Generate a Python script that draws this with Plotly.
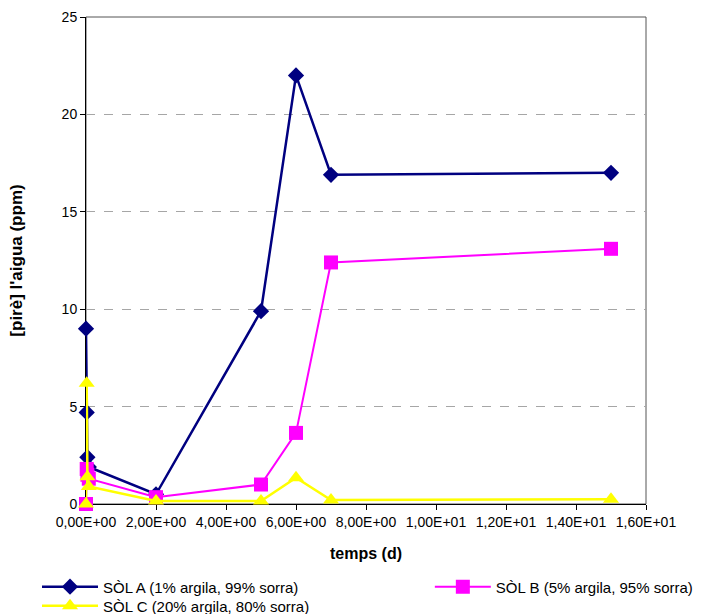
import plotly.graph_objects as go

# Sampling times (days) and measured concentrations (ppm) for each soil
temps_a = [0, 0.02, 0.04, 0.08, 2, 5, 6, 7, 15]
sol_a = [9.0, 4.7, 2.4, 1.9, 0.5, 9.9, 22.0, 16.9, 17.0]

temps_b = [0, 0.02, 0.04, 0.08, 2, 5, 6, 7, 15]
sol_b = [0.0, 1.8, 1.5, 1.3, 0.35, 1.0, 3.65, 12.4, 13.1]

temps_c = [0, 0.02, 0.04, 0.08, 2, 5, 6, 7, 15]
sol_c = [0.0, 6.2, 1.4, 0.9, 0.15, 0.15, 1.35, 0.2, 0.25]

x_tick_vals = [0, 2, 4, 6, 8, 10, 12, 14, 16]
x_tick_text = ["0,00E+00", "2,00E+00", "4,00E+00", "6,00E+00", "8,00E+00",
               "1,00E+01", "1,20E+01", "1,40E+01", "1,60E+01"]
y_tick_vals = [0, 5, 10, 15, 20, 25]

names = ["SÒL A (1% argila, 99% sorra)",
         "SÒL B (5% argila, 95% sorra)",
         "SÒL C (20% argila, 80% sorra)"]

FONT = "Liberation Sans, Arial, sans-serif"

fig = go.Figure()
fig.add_trace(go.Scatter(
    x=temps_a, y=sol_a, name=names[0], mode="lines+markers",
    line=dict(color="#000080", width=2.5),
    marker=dict(symbol="diamond", size=12.5, color="#000080"),
    cliponaxis=False, legend="legend2"))
fig.add_trace(go.Scatter(
    x=temps_b, y=sol_b, name=names[1], mode="lines+markers",
    line=dict(color="#FF00FF", width=2),
    marker=dict(symbol="square", size=14, color="#FF00FF"),
    cliponaxis=False, legend="legend3"))
fig.add_trace(go.Scatter(
    x=temps_c, y=sol_c, name=names[2], mode="lines+markers",
    line=dict(color="#FFFF00", width=2.5),
    marker=dict(symbol="triangle-up", size=14, color="#FFFF00"),
    cliponaxis=False, legend="legend4"))

legend_common = dict(orientation="v", itemwidth=56, borderwidth=0,
                     bgcolor="rgba(0,0,0,0)", yanchor="middle", xanchor="left",
                     font=dict(family=FONT, size=15, color="#000"),
                     itemclick=False, itemdoubleclick=False)

fig.update_layout(
    width=716, height=614,
    margin=dict(l=86, r=70, t=17, b=110, autoexpand=False),
    paper_bgcolor="white", plot_bgcolor="white",
    font=dict(family=FONT, color="#000"),
    showlegend=True,
    legend2=dict(x=-0.0875, y=-0.1704, **legend_common),
    legend3=dict(x=0.614, y=-0.1704, **legend_common),
    legend4=dict(x=-0.0875, y=-0.2094, **legend_common),
    xaxis=dict(
        range=[0, 16], tickvals=x_tick_vals, ticktext=x_tick_text,
        ticks="outside", ticklen=5, tickcolor="#000", tickwidth=1,
        showline=True, linecolor="#000", linewidth=1,
        showgrid=False, zeroline=False, layer="below traces",
        tickfont=dict(family=FONT, size=14, color="#000"),
        title=dict(text="<b>temps (d)</b>", standoff=19,
                   font=dict(family=FONT, size=16, color="#000")),
    ),
    yaxis=dict(
        range=[0, 25], tickvals=y_tick_vals,
        ticks="outside", ticklen=5, tickcolor="#000", tickwidth=1,
        showline=True, linecolor="#000", linewidth=1,
        showgrid=True, gridcolor="#a6a6a6", griddash="dash", gridwidth=1,
        zeroline=False, layer="below traces",
        tickfont=dict(family=FONT, size=14, color="#000"),
        title=dict(text="<b>[pirè] l'aigua (ppm)</b>", standoff=34,
                   font=dict(family=FONT, size=17, color="#000")),
    ),
    shapes=[dict(type="rect", xref="paper", yref="paper", x0=0, y0=0, x1=1, y1=1,
                 line=dict(color="#555", width=1), layer="below")],
)

fig.write_html("out.html")
